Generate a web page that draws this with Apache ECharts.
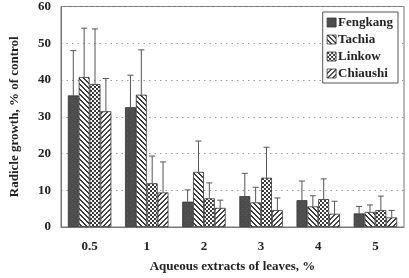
<!DOCTYPE html>
<html><head><meta charset="utf-8">
<script src="https://cdn.jsdelivr.net/npm/echarts@6/dist/echarts.min.js"></script>
<style>html,body{margin:0;padding:0;background:#fff}#c{width:409px;height:278px}</style>
</head><body><div id="c"></div>
<script>
const categories = ['0.5','1','2','3','4','5'];
const seriesNames = ['Fengkang','Tachia','Linkow','Chiaushi'];
const fengkang = [35.8, 32.6, 6.9, 8.4, 7.3, 3.7];
const fengkangErr = [48.0, 41.3, 10.1, 14.6, 12.5, 5.6];
const tachia = [40.8, 36.0, 15.0, 6.7, 5.6, 4.1];
const tachiaErr = [54.1, 48.2, 23.4, 10.8, 8.5, 6.0];
const linkow = [38.9, 11.9, 7.8, 13.4, 7.6, 4.6];
const linkowErr = [53.9, 19.3, 12.0, 21.7, 13.1, 8.4];
const chiaushi = [31.5, 9.4, 5.2, 4.6, 3.6, 2.6];
const chiaushiErr = [40.4, 17.7, 7.3, 7.9, 7.0, 4.5];
const yTicks = [0, 10, 20, 30, 40, 50, 60];

const values = [fengkang, tachia, linkow, chiaushi];
const errs = [fengkangErr, tachiaErr, linkowErr, chiaushiErr];

function pat(kind){
  const c = document.createElement('canvas');
  const s = kind === 'check' ? 4 : 5;
  c.width = s; c.height = s;
  const g = c.getContext('2d');
  if (kind === 'solid') {
    g.fillStyle = '#4d4d4d'; g.fillRect(0,0,s,s);
    g.fillStyle = '#5c5c5c'; g.fillRect(0,0,1,1); g.fillRect(2,3,1,1);
  } else if (kind === 'back') {
    g.fillStyle = '#fff'; g.fillRect(0,0,s,s);
    g.fillStyle = '#3c3c3c';
    for (let i=0;i<s;i++){ g.fillRect(i,i,1,1); g.fillRect((i+1)%s,i,1,1); }
  } else if (kind === 'check') {
    g.fillStyle = '#fff'; g.fillRect(0,0,s,s);
    g.fillStyle = '#3a3a3a';
    g.fillRect(0,0,2,2); g.fillRect(2,2,2,2);
  } else {
    g.fillStyle = '#fff'; g.fillRect(0,0,s,s);
    g.fillStyle = '#444';
    for (let i=0;i<s;i++){ g.fillRect(s-1-i,i,1,1); g.fillRect((2*s-2-i)%s,i,1,1); }
  }
  return {image: c, repeat: 'repeat'};
}
const patterns = [pat('solid'), pat('back'), pat('check'), pat('fwd')];
const BW = 0.19;

const series = [];
seriesNames.forEach((n, i) => {
  series.push({
    name: n, type: 'bar', data: values[i], barWidth: (BW*100)+'%', barGap: '0%',
    itemStyle: {color: patterns[i], borderColor: '#333', borderWidth: 0.8},
    emphasis: {disabled: true}, z: 2
  });
});
seriesNames.forEach((n, i) => {
  series.push({
    type: 'custom', z: 1,
    data: errs[i].map((e, k) => [k, values[i][k], e]),
    renderItem: (params, api) => {
      const k = api.value(0);
      const top = api.coord([k, api.value(2)]);
      const base = api.coord([k, api.value(1)]);
      const band = api.size([1, 0])[0];
      const x = top[0] + (i - 1.5) * band * BW;
      return {type: 'group', children: [
        {type: 'line', shape: {x1: x, y1: base[1], x2: x, y2: top[1]}, style: {stroke: '#555', lineWidth: 1}},
        {type: 'line', shape: {x1: x - 3, y1: top[1], x2: x + 3, y2: top[1]}, style: {stroke: '#555', lineWidth: 1}}
      ]};
    }
  });
});

const font = 'Liberation Serif';
const chart = echarts.init(document.getElementById('c'));
chart.setOption({
  animation: false,
  textStyle: {fontFamily: font},
  grid: {left: 52, right: 5, top: 5, bottom: 47, show: true, borderColor: '#777', borderWidth: 1},
  legend: {
    data: seriesNames, orient: 'vertical', right: 11, top: 12,
    itemWidth: 9, itemHeight: 9, itemGap: 4, icon: 'rect',
    borderColor: '#555', borderWidth: 1, padding: [4, 5, 3, 4],
    backgroundColor: '#fff',
    textStyle: {fontFamily: font, fontWeight: 'bold', fontSize: 13, color: '#222', padding: [0,0,0,-3]},
    itemStyle: {borderColor: '#333', borderWidth: 0.8}
  },
  xAxis: {
    type: 'category', data: categories,
    name: 'Aqueous extracts of leaves, %', nameLocation: 'middle', nameGap: 33,
    nameTextStyle: {fontFamily: font, fontWeight: 'bold', fontSize: 13, color: '#222'},
    axisLine: {lineStyle: {color: '#777'}},
    axisTick: {inside: true, length: 3, lineStyle: {color: '#777'}},
    axisLabel: {fontFamily: font, fontWeight: 'bold', fontSize: 13, color: '#222', margin: 13}
  },
  yAxis: {
    type: 'value', min: 0, max: 60, interval: 10,
    name: 'Radicle growth, % of control', nameLocation: 'middle', nameGap: 40,
    nameTextStyle: {fontFamily: font, fontWeight: 'bold', fontSize: 13, color: '#222'},
    axisLine: {show: true, lineStyle: {color: '#777'}},
    axisTick: {show: false},
    axisLabel: {fontFamily: font, fontWeight: 'bold', fontSize: 13, color: '#222', margin: 10,
      formatter: v => yTicks.includes(v) ? String(v) : ''},
    splitLine: {show: true, lineStyle: {color: '#999', type: [1.5, 4], width: 1}}
  },
  series: series
});
</script></body></html>
